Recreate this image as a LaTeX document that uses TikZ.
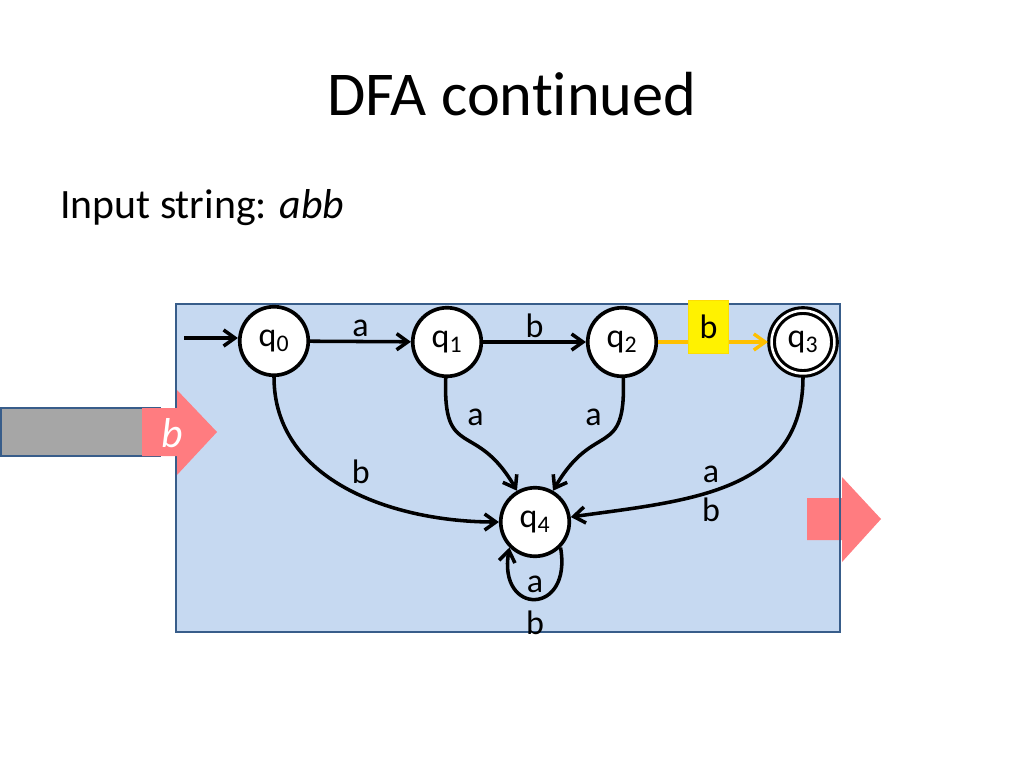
\documentclass[tikz,border=0pt]{standalone}
\usepackage{fontspec}
\setmainfont{Carlito}[Ligatures=NoCommon]
\usepackage{tikz}
\usetikzlibrary{positioning,arrows.meta}
\definecolor{boxfill}{RGB}{198,217,241}
\definecolor{boxline}{RGB}{56,93,138}
\definecolor{pinkarrow}{RGB}{255,124,128}
\definecolor{tapegray}{RGB}{166,166,166}
\definecolor{activecolor}{RGB}{255,192,0}
\tikzset{
    dfa state/.style={circle, draw, line width=2.6pt, fill=white, minimum size=1.7cm, inner sep=0pt, font=\fontsize{24}{28}\selectfont},
    accepting state/.style={dfa state, double, double distance=1.8pt, line width=2.2pt, minimum size=1.56cm, outer sep=2.5pt},
    edge/.style={-{Straight Barb[length=2.8mm,width=4mm]}, line width=2.5pt, black},
    active edge/.style={edge, activecolor, line width=2.4pt},
    edge label/.style={font=\fontsize{24}{28}\selectfont, inner sep=2pt, text=black},
    read box/.style={fill=yellow, draw=yellow!80!orange, line width=0.6pt, minimum width=0.99cm, minimum height=1.31cm, inner sep=0pt, text=black, font=\fontsize{24}{28}\selectfont},
    title text/.style={font=\fontsize{44}{52}\selectfont, inner sep=0pt},
    body text/.style={font=\fontsize{29.5}{34}\selectfont, inner sep=0pt}
}

\begin{document}
\begin{tikzpicture}[x=0.024805cm, y=0.024805cm]
    \useasboundingbox (0,0) rectangle (1024,-768);

    % Title and input
    \node[title text, anchor=base] (title) at (512,-115) {DFA continued};
    \node[body text, anchor=base west] (input) at (60,-218) {Input string: \textit{abb}};

    % Machine box (fill first, outline after the output arrow)
    \fill[boxfill] (176,-304) rectangle (840,-632);
    \fill[pinkarrow] (807,-498) -- (842,-498) -- (842,-477) -- (881,-519)
        -- (842,-562) -- (842,-540) -- (807,-540) -- cycle;
    \draw[boxline, line width=1.6pt] (176,-304) rectangle (840,-632);

    % Input tape with the symbol being read
    \draw[boxline, line width=1.6pt, fill=tapegray] (1,-408) rectangle (160,-456);
    \fill[pinkarrow] (142,-408) -- (177,-408) -- (177,-390) -- (217,-432)
        -- (177,-475) -- (177,-456) -- (142,-456) -- cycle;
    \node[body text, text=white] (sym) at (172,-433) {\textit{b}};

    % States
    \node[dfa state] (q0) at (274,-341) {q\textsubscript{0}};
    \node[dfa state] (q1) at (447,-342) {q\textsubscript{1}};
    \node[dfa state] (q2) at (622,-342) {q\textsubscript{2}};
    \node[accepting state] (q3) at (803,-342) {q\textsubscript{3}};
    \node[dfa state] (q4) at (535,-522) {q\textsubscript{4}};
    \coordinate (start) at (184,-338);

    % Transitions
    \draw[edge] (start) -- (q0.west |- start);
    \draw[edge] (q0) -- node[above, edge label] {a} (q1);
    \draw[edge] (q1) -- node[above, edge label] {b} (q2);
    \draw[active edge] (q2) -- node[read box, pos=0.46, yshift=10.6pt] {b} (q3);
    \draw[edge] (q0) to[out=-90, in=180] node[pos=0.5, above right, edge label] {b} (q4);
    \draw[edge] (q1) to[out=-92, in=120, looseness=1.6] node[pos=0.22, right=10pt, edge label] {a} (q4);
    \draw[edge] (q2) to[out=-88, in=60, looseness=1.6] node[pos=0.22, left=10pt, edge label] {a} (q4);
    \draw[edge] (q3) to[out=-90, in=8, looseness=1.1] node[pos=0.57, above=3pt, edge label] {a}
        node[pos=0.57, below=1pt, edge label] {b} (q4);
    \draw[edge] (q4.-45) to[out=-80, in=-100, looseness=3.5] node[pos=0.5, above=1pt, edge label] {a}
        node[pos=0.5, below=5pt, edge label] {b} (q4.-135);
\end{tikzpicture}
\end{document}
